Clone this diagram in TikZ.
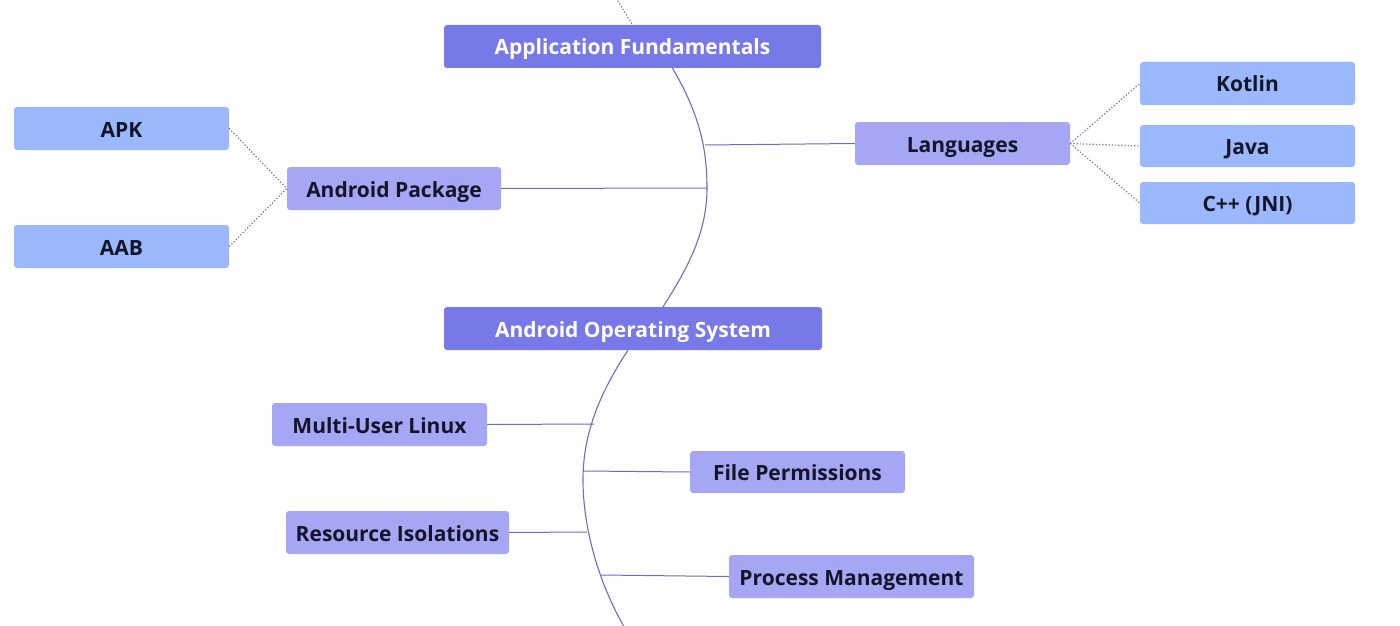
\documentclass[tikz,border=0pt]{standalone}
\usepackage{fontspec}
\setmainfont{Open Sans}
\usetikzlibrary{calc}
\definecolor{mainbox}{HTML}{7879E9}
\definecolor{subbox}{HTML}{A5A6F4}
\definecolor{leafbox}{HTML}{9AB8FB}
\definecolor{linecol}{HTML}{6C6CC4}
\definecolor{txtdark}{HTML}{15152A}
\tikzset{
  base/.style={rounded corners=3pt, inner sep=0pt, text height=17pt, text depth=0pt,
    font=\fontsize{21}{24}\selectfont\bfseries},
  mainnode/.style={base, fill=mainbox, text=white},
  subnode/.style={base, fill=subbox, text=txtdark},
  leafnode/.style={base, fill=leafbox, text=txtdark},
  spine/.style={draw=linecol, line width=1.1pt},
  branch/.style={draw=linecol, line width=1pt},
  dotlink/.style={draw=linecol, line width=1.2pt, dash pattern=on 1.2pt off 2pt},
}
\begin{document}
\begin{tikzpicture}[x=1pt,y=-1pt]
\useasboundingbox (0,0) rectangle (1400,626);
% main nodes
\node[mainnode, minimum width=377, minimum height=43] (af) at (632.5,46.5) {Application Fundamentals};
\node[mainnode, minimum width=378, minimum height=43] (aos) at (633,328.5) {Android Operating System};
% sub nodes
\node[subnode, minimum width=215, minimum height=43] (lang) at (962.5,143.5) {Languages};
\node[subnode, minimum width=214, minimum height=43] (pkg) at (394,188.5) {Android Package};
\node[subnode, minimum width=215, minimum height=43] (mul) at (379.5,424.5) {Multi-User Linux};
\node[subnode, minimum width=215, minimum height=42] (fp) at (797.5,472) {File Permissions};
\node[subnode, minimum width=223, minimum height=43] (ri) at (397.5,532.5) {Resource Isolations};
\node[subnode, minimum width=245, minimum height=43] (pm) at (851.5,576.5) {Process Management};
% leaf nodes
\node[leafnode, minimum width=215, minimum height=43] (apk) at (121.5,128.5) {APK};
\node[leafnode, minimum width=215, minimum height=43] (aab) at (121.5,246.5) {AAB};
\node[leafnode, minimum width=215, minimum height=43] (kot) at (1247.5,83.5) {Kotlin};
\node[leafnode, minimum width=215, minimum height=42] (java) at (1247.5,146) {Java};
\node[leafnode, minimum width=215, minimum height=42] (cpp) at (1247.5,203) {C++ (JNI)};
% spine coordinates
\coordinate (top) at (616,-2);
\coordinate (s1) at (705,145);
\coordinate (s2) at (707,188);
\coordinate (s3) at (594,424);
\coordinate (s4) at (583,471);
\coordinate (s5) at (587,532);
\coordinate (s6) at (601,575);
\coordinate (bot) at (632,640);
% spines
\draw[dotlink] (top) -- (af.north);
\draw[spine] ([xshift=40]af.south) .. controls (700,115) and (707,150) .. (s2)
   .. controls (707,230) and (690,265) .. ([xshift=30]aos.north);
\draw[spine] ([xshift=-5]aos.south) .. controls (595,400) and (583,440) .. (583,480)
   .. controls (583,530) and (600,590) .. (bot);
% branches
\draw[branch] (s1) -- (lang.west);
\draw[branch] (s2) -- (pkg.east);
\draw[branch] (s3) -- (mul.east);
\draw[branch] (s4) -- (fp.west);
\draw[branch] (s5) -- (ri.east);
\draw[branch] (s6) -- (pm.west);
% dotted links
\draw[dotlink] (apk.east) -- (pkg.west);
\draw[dotlink] (aab.east) -- (pkg.west);
\draw[dotlink] (lang.east) -- (kot.west);
\draw[dotlink] (lang.east) -- (java.west);
\draw[dotlink] (lang.east) -- (cpp.west);
\end{tikzpicture}
\end{document}
